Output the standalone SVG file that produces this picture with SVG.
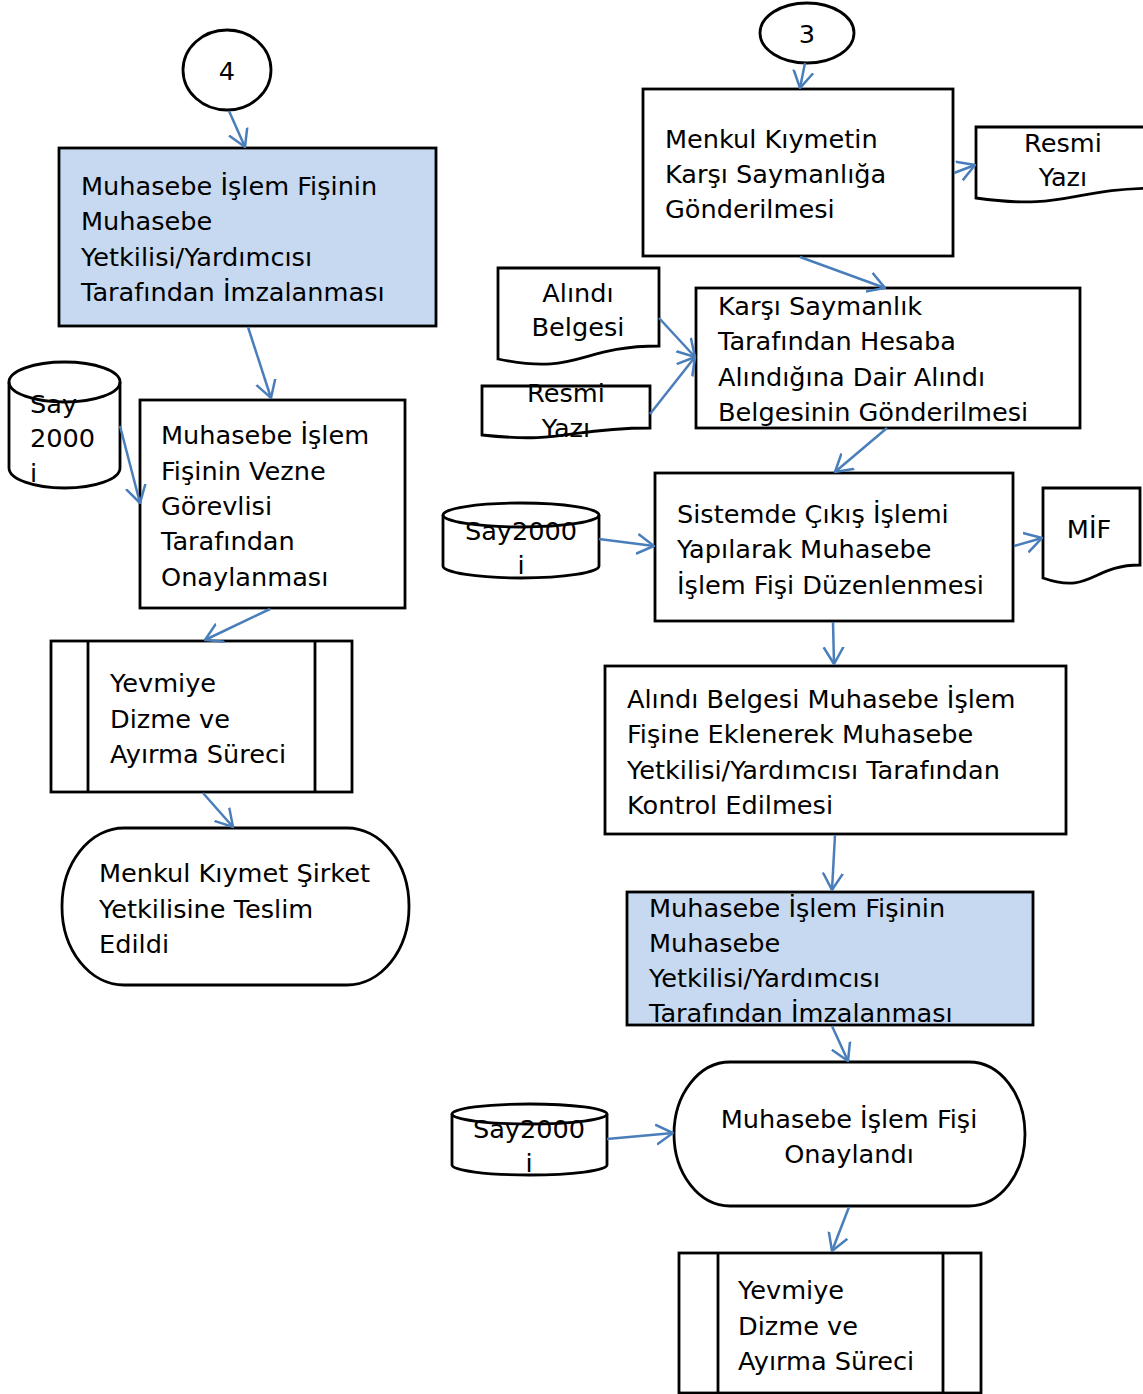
<svg xmlns="http://www.w3.org/2000/svg" width="1143" height="1394" viewBox="0 0 1143 1394">
<defs>
<style>
.s{fill:#fff;stroke:#000;stroke-width:2.8}
.b{fill:#C6D9F1;stroke:#000;stroke-width:2.8}
.ln{fill:none;stroke:#000;stroke-width:2.8}
.t{font-family:"DejaVu Sans",Verdana,sans-serif;font-size:25.6px;fill:#000}
.c{text-anchor:middle}
.cn{fill:none;stroke:#4A7EBB;stroke-width:2.5}
</style>
<marker id="ah" markerUnits="userSpaceOnUse" viewBox="0 0 18 24" refX="17" refY="12" markerWidth="18" markerHeight="24" orient="auto">
<path d="M0,2 L17,12 L0,22" fill="none" stroke="#4A7EBB" stroke-width="2.5"/>
</marker>
</defs>
<rect width="1143" height="1394" fill="#fff"/>

<g id="n-c4"><ellipse class="s" cx="227" cy="70" rx="44" ry="40"/><text class="t c" x="227" y="80">4</text></g>
<g id="n-box1"><rect class="b" x="59" y="148" width="377" height="178"/>
<text class="t" x="81" y="195">Muhasebe İşlem Fişinin</text>
<text class="t" x="81" y="230">Muhasebe</text>
<text class="t" x="81" y="266">Yetkilisi/Yardımcısı</text>
<text class="t" x="81" y="301">Tarafından İmzalanması</text></g>
<g id="n-cyl1"><path class="s" d="M9,382 A55.5,20 0 0,1 120,382 L120,468 A55.5,20 0 0,1 9,468 Z"/><path class="ln" d="M9,382 A55.5,20 0 0,0 120,382"/>
<text class="t" x="30" y="413">Say</text><text class="t" x="30" y="447">2000</text><text class="t" x="30" y="482">i</text></g>
<g id="n-box2"><rect class="s" x="140" y="400" width="265" height="208"/>
<text class="t" x="161" y="444">Muhasebe İşlem</text>
<text class="t" x="161" y="480">Fişinin Vezne</text>
<text class="t" x="161" y="515">Görevlisi</text>
<text class="t" x="161" y="550">Tarafından</text>
<text class="t" x="161" y="586">Onaylanması</text></g>
<g id="n-yev1"><rect class="s" x="51" y="641" width="301" height="151"/><path class="ln" d="M88,641 V792 M315,641 V792"/>
<text class="t" x="110" y="692">Yevmiye</text><text class="t" x="110" y="728">Dizme ve</text><text class="t" x="110" y="763">Ayırma Süreci</text></g>
<g id="n-term1"><rect class="s" x="62" y="828" width="347" height="157" rx="62" ry="78"/>
<text class="t" x="99" y="882">Menkul Kıymet Şirket</text><text class="t" x="99" y="918">Yetkilisine Teslim</text><text class="t" x="99" y="953">Edildi</text></g>

<g id="n-c3"><ellipse class="s" cx="807" cy="33" rx="47" ry="30"/><text class="t c" x="807" y="43">3</text></g>
<g id="n-menkul"><rect class="s" x="643" y="89" width="310" height="167"/>
<text class="t" x="665" y="148">Menkul Kıymetin</text><text class="t" x="665" y="183">Karşı Saymanlığa</text><text class="t" x="665" y="218">Gönderilmesi</text></g>
<g id="n-resmi1"><path class="s" d="M976,127 H1160 V188 C1068,188 1068,211 976,198 Z"/>
<text class="t c" x="1063" y="152">Resmi</text><text class="t c" x="1063" y="186">Yazı</text></g>
<g id="n-karsi"><rect class="s" x="696" y="288" width="384" height="140"/>
<text class="t" x="718" y="315">Karşı Saymanlık</text><text class="t" x="718" y="350">Tarafından Hesaba</text><text class="t" x="718" y="386">Alındığına Dair Alındı</text><text class="t" x="718" y="421">Belgesinin Gönderilmesi</text></g>
<g id="n-alindi-doc"><path class="s" d="M498,268 H659 V346 C578.5,346 578.5,376 498,359 Z"/>
<text class="t c" x="578" y="302">Alındı</text><text class="t c" x="578" y="336">Belgesi</text></g>
<g id="n-resmi2"><path class="s" d="M482,386 H650 V428 C566,428 566,444 482,435 Z"/>
<text class="t c" x="566" y="402">Resmi</text><text class="t c" x="566" y="437">Yazı</text></g>
<g id="n-sistem"><rect class="s" x="655" y="473" width="358" height="148"/>
<text class="t" x="677" y="523">Sistemde Çıkış İşlemi</text><text class="t" x="677" y="558">Yapılarak Muhasebe</text><text class="t" x="677" y="594">İşlem Fişi Düzenlenmesi</text></g>
<g id="n-cyl2"><path class="s" d="M443,515 A78,12 0 0,1 599,515 L599,566 A78,12 0 0,1 443,566 Z"/><path class="ln" d="M443,515 A78,12 0 0,0 599,515"/>
<text class="t c" x="521" y="540">Say2000</text><text class="t c" x="521" y="574">i</text></g>
<g id="n-mif"><path class="s" d="M1043,488 H1140 V565 C1091.5,565 1091.5,595 1043,578 Z"/>
<text class="t c" x="1089" y="538">MİF</text></g>
<g id="n-alindi-box"><rect class="s" x="605" y="666" width="461" height="168"/>
<text class="t" x="627" y="708">Alındı Belgesi Muhasebe İşlem</text><text class="t" x="627" y="743">Fişine Eklenerek Muhasebe</text><text class="t" x="627" y="779">Yetkilisi/Yardımcısı Tarafından</text><text class="t" x="627" y="814">Kontrol Edilmesi</text></g>
<g id="n-box3"><rect class="b" x="627" y="892" width="406" height="133"/>
<text class="t" x="649" y="917">Muhasebe İşlem Fişinin</text><text class="t" x="649" y="952">Muhasebe</text><text class="t" x="649" y="987">Yetkilisi/Yardımcısı</text><text class="t" x="649" y="1022">Tarafından İmzalanması</text></g>
<g id="n-term2"><rect class="s" x="674" y="1062" width="351" height="144" rx="56" ry="72"/>
<text class="t c" x="849" y="1128">Muhasebe İşlem Fişi</text><text class="t c" x="849" y="1163">Onaylandı</text></g>
<g id="n-cyl3"><path class="s" d="M452,1114 A77.5,10 0 0,1 607,1114 L607,1165 A77.5,10 0 0,1 452,1165 Z"/><path class="ln" d="M452,1114 A77.5,10 0 0,0 607,1114"/>
<text class="t c" x="529" y="1138">Say2000</text><text class="t c" x="529" y="1172">i</text></g>
<g id="n-yev2"><rect class="s" x="679" y="1253" width="302" height="140"/><path class="ln" d="M718,1253 V1393 M943,1253 V1393"/>
<text class="t" x="738" y="1299">Yevmiye</text><text class="t" x="738" y="1335">Dizme ve</text><text class="t" x="738" y="1370">Ayırma Süreci</text></g>

<g id="connectors" class="cn">
<line x1="229" y1="111" x2="245" y2="147" marker-end="url(#ah)"/>
<line x1="248" y1="327" x2="271" y2="398" marker-end="url(#ah)"/>
<line x1="120" y1="426" x2="140" y2="503" marker-end="url(#ah)"/>
<line x1="270" y1="609" x2="205" y2="640" marker-end="url(#ah)"/>
<line x1="203" y1="793" x2="233" y2="827" marker-end="url(#ah)"/>
<line x1="805" y1="63" x2="800" y2="88" marker-end="url(#ah)"/>
<line x1="954" y1="173" x2="975" y2="165" marker-end="url(#ah)"/>
<line x1="800" y1="257" x2="885" y2="288" marker-end="url(#ah)"/>
<line x1="659" y1="318" x2="695" y2="357" marker-end="url(#ah)"/>
<line x1="650" y1="414" x2="695" y2="357" marker-end="url(#ah)"/>
<line x1="887" y1="428" x2="835" y2="472" marker-end="url(#ah)"/>
<line x1="599" y1="539" x2="654" y2="546" marker-end="url(#ah)"/>
<line x1="1014" y1="546" x2="1042" y2="538" marker-end="url(#ah)"/>
<line x1="833" y1="622" x2="834" y2="664" marker-end="url(#ah)"/>
<line x1="835" y1="835" x2="832" y2="890" marker-end="url(#ah)"/>
<line x1="832" y1="1026" x2="848" y2="1061" marker-end="url(#ah)"/>
<line x1="607" y1="1139" x2="673" y2="1133" marker-end="url(#ah)"/>
<line x1="849" y1="1207" x2="832" y2="1251" marker-end="url(#ah)"/>
</g>
</svg>
